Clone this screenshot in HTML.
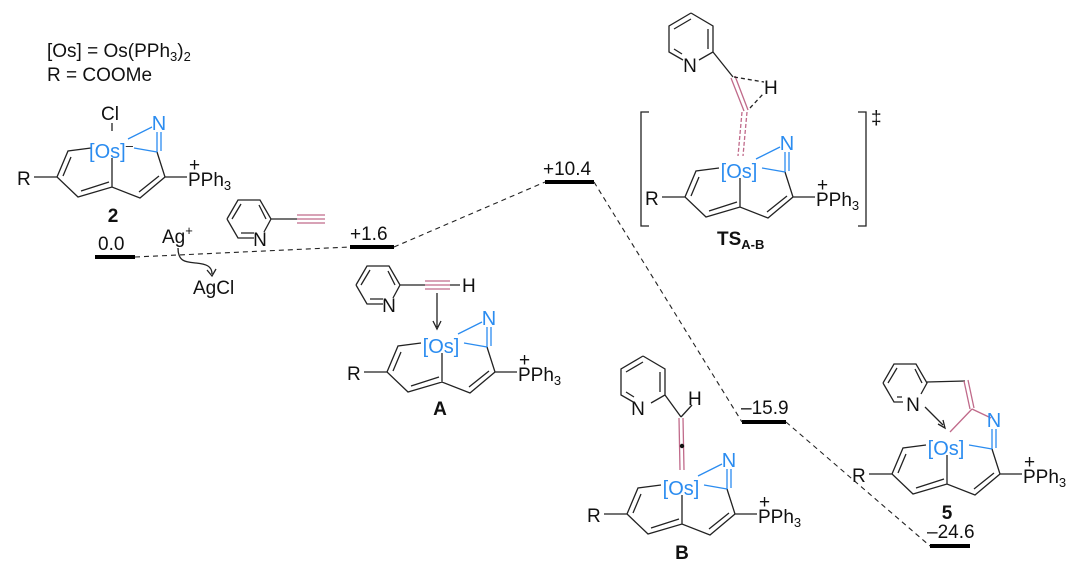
<!DOCTYPE html>
<html><head><meta charset="utf-8"><style>
html,body{margin:0;padding:0;background:#fff;}
svg{display:block;font-family:"Liberation Sans",Arial,sans-serif;}
.k{stroke:#222;stroke-width:1.3;fill:none;}
.b{stroke:#2b8cf0;stroke-width:1.3;fill:none;}
.p{stroke:#c06a8a;stroke-width:1.3;fill:none;}
.t{font-size:19px;fill:#111;}
.bt{font-size:20px;fill:#2b8cf0;}
.d{stroke:#222;stroke-width:1.1;stroke-dasharray:5,4;fill:none;}
.lv{stroke:#000;stroke-width:4;}
</style></head><body>
<svg width="1071" height="568" viewBox="0 0 1071 568">
<text class="t" x="47" y="57">[Os] = Os(PPh<tspan font-size="13" dy="4">3</tspan><tspan dy="-4">)</tspan><tspan font-size="13" dy="4">2</tspan></text>
<text class="t" x="47" y="81">R = COOMe</text>

<line class="lv" x1="95" y1="257" x2="135" y2="257"/>
<text class="t" x="98" y="250">0.0</text>
<line class="lv" x1="350" y1="247" x2="394" y2="247"/>
<text class="t" x="350" y="240">+1.6</text>
<line class="lv" x1="545" y1="182" x2="594" y2="182"/>
<text class="t" x="543" y="175">+10.4</text>
<line class="lv" x1="742" y1="422" x2="786" y2="422"/>
<text class="t" x="741" y="414">–15.9</text>
<line class="lv" x1="930" y1="546" x2="970" y2="546"/>
<text class="t" x="927" y="538">–24.6</text>
<path class="d" d="M135 257 L350 247 M394 247 L545 182 M594 182 L742 422 M786 422 L930 546"/>

<text class="t" x="162" y="243">Ag<tspan font-size="13" dy="-8">+</tspan></text>
<text class="t" x="193" y="294">AgCl</text>
<path class="k" d="M178 248 C178 262 186 262 196 263 C206 264 212 266 212 274" stroke-width="1"/>
<path class="k" d="M207 270 L212 276 L216 269" stroke-width="1"/>

<g transform="translate(112,145)">
<path class="k" d="M-21 3 L-44 6 L-55 32 L-34 52 L0 42 L28 53 L53 32 L45 7 M-41 12 L-49 31 M-31 46 L-3 37 M27 47 L47 31 M0 13 L0 42 M-55 32 L-78 32 M53 32 L75 32 M0 -14 L0 -22"/>
<path class="b" d="M16 -6 L40 -18 M22 3 L45 7 M45 7 L45 -13 M49 6 L49 -13"/>
<text class="bt" x="-1" y="13" text-anchor="middle">[Os]<tspan font-size="13" dy="-8" fill="#111">–</tspan></text>
<text class="bt" x="47" y="-15" text-anchor="middle">N</text>
<text class="t" x="-2" y="-25" text-anchor="middle">Cl</text>
<text class="t" x="-95" y="40">R</text>
<text class="t" x="76" y="41">PPh<tspan font-size="13" dy="4">3</tspan></text>
<text class="t" x="77" y="26" font-size="13">+</text>
</g>
<text class="t" x="113" y="222" text-anchor="middle" font-weight="bold">2</text>

<g transform="translate(249,219)">
<path class="k" d="M-22 0 L-11 -19 L11 -19 L22 0 L15 13 M5 19 L-11 19 L-22 0 M-17 0 L-8 -15 M10 -14 L17 0 M-8 14 L5 14 M22 0 L48 0"/>
<text class="t" x="11" y="27" text-anchor="middle">N</text>
<path class="p" d="M48 -4 L76 -4 M48 0 L76 0 M48 4 L76 4"/>
</g>

<g transform="translate(378,285)">
<path class="k" d="M-22 0 L-11 -19 L11 -19 L22 0 L15 13 M5 19 L-11 19 L-22 0 M-17 0 L-8 -15 M10 -14 L17 0 M-8 14 L5 14 M22 0 L47 0 M72 0 L82 0"/>
<text class="t" x="11" y="27" text-anchor="middle">N</text>
<path class="p" d="M47 -4 L72 -4 M47 0 L72 0 M47 4 L72 4"/>
<text class="t" x="84" y="7">H</text>
<path class="k" d="M59 8 L59 42 M55 36 L59 44 L63 36" stroke-width="1.1"/>
</g>
<g transform="translate(442,340)">
<path class="k" d="M-21 3 L-44 6 L-55 32 L-34 52 L0 42 L28 53 L53 32 L45 7 M-41 12 L-49 31 M-31 46 L-3 37 M27 47 L47 31 M0 13 L0 42 M-55 32 L-78 32 M53 32 L75 32"/>
<path class="b" d="M16 -6 L40 -18 M22 3 L45 7 M45 7 L45 -13 M49 6 L49 -13"/>
<text class="bt" x="-1" y="13" text-anchor="middle">[Os]</text>
<text class="bt" x="47" y="-15" text-anchor="middle">N</text>
<text class="t" x="-95" y="40">R</text>
<text class="t" x="76" y="41">PPh<tspan font-size="13" dy="4">3</tspan></text>
<text class="t" x="77" y="26" font-size="13">+</text>
</g>
<text class="t" x="440" y="415" text-anchor="middle" font-weight="bold">A</text>

<path class="k" d="M649 112 L641 112 L641 226 L649 226 M858 112 L866 112 L866 226 L858 226"/>
<text class="t" x="871" y="124" font-size="14">‡</text>
<g transform="translate(691,39)">
<path class="k" d="M0 -26 L22 -13 L22 13 L8 21 M-8 21 L-22 13 L-22 -13 L0 -26 M-17 -10 L0 -20 M17 -10 L17 10 M-17 10 L-9 15 M22 13 L42 38"/>
<text class="t" x="-1" y="33" text-anchor="middle">N</text>
</g>
<path class="p" d="M731 78 L744 111 M735 76 L748 110"/>
<path class="p" d="M742 112 L738 156 M747 112 L743 156" stroke-dasharray="4,2"/>
<path class="k" d="M734 77 L764 82 M750 108 L764 93" stroke-dasharray="4,3" stroke-width="1.1"/>
<text class="t" x="764" y="94">H</text>
<g transform="translate(740,165)">
<path class="k" d="M-21 3 L-44 6 L-55 32 L-34 52 L0 42 L28 53 L53 32 L45 7 M-41 12 L-49 31 M-31 46 L-3 37 M27 47 L47 31 M0 13 L0 42 M-55 32 L-78 32 M53 32 L75 32"/>
<path class="b" d="M16 -6 L40 -18 M22 3 L45 7 M45 7 L45 -13 M49 6 L49 -13"/>
<text class="bt" x="-1" y="13" text-anchor="middle">[Os]</text>
<text class="bt" x="47" y="-15" text-anchor="middle">N</text>
<text class="t" x="-95" y="40">R</text>
<text class="t" x="76" y="41">PPh<tspan font-size="13" dy="4">3</tspan></text>
<text class="t" x="77" y="26" font-size="13">+</text>
</g>
<text class="t" x="717" y="245" font-weight="bold" font-size="19">TS<tspan font-size="13" dy="4">A-B</tspan></text>

<g transform="translate(643,382)">
<path class="k" d="M0 -26 L22 -13 L22 13 L8 21 M-8 21 L-22 13 L-22 -13 L0 -26 M-17 -10 L0 -20 M17 -10 L17 10 M-17 10 L-9 15 M22 13 L38 35"/>
<text class="t" x="-5" y="33" text-anchor="middle">N</text>
</g>
<path class="k" d="M681 417 L692 405"/>
<text class="t" x="688" y="405">H</text>
<path class="p" d="M679 418 L680 470 M683 418 L684 470"/>
<circle cx="682" cy="446" r="2.2" fill="#111"/>
<g transform="translate(682,482)">
<path class="k" d="M-21 3 L-44 6 L-55 32 L-34 52 L0 42 L28 53 L53 32 L45 7 M-41 12 L-49 31 M-31 46 L-3 37 M27 47 L47 31 M0 13 L0 42 M-55 32 L-78 32 M53 32 L75 32"/>
<path class="b" d="M16 -6 L40 -18 M22 3 L45 7 M45 7 L45 -13 M49 6 L49 -13"/>
<text class="bt" x="-1" y="13" text-anchor="middle">[Os]</text>
<text class="bt" x="47" y="-15" text-anchor="middle">N</text>
<text class="t" x="-95" y="40">R</text>
<text class="t" x="76" y="41">PPh<tspan font-size="13" dy="4">3</tspan></text>
<text class="t" x="77" y="26" font-size="13">+</text>
</g>
<text class="t" x="682" y="559" text-anchor="middle" font-weight="bold">B</text>

<g transform="translate(905,383)">
<path class="k" d="M-22 0 L-11 -19 L11 -19 L22 0 L16 11 M-2 19 L-11 19 L-22 0 M-17 0 L-8 -15 M10 -14 L17 0 M-8 14 L-3 14 M22 -1 L60 -2"/>
<text class="t" x="8" y="28" text-anchor="middle">N</text>
<path class="k" d="M20 24 L38 42 M33 41 L40 45 L38 37" stroke-width="1.1"/>
</g>
<path class="p" d="M964 381 L970 409 M968 380 L974 408 M972 409 L991 418 M972 409 L950 432"/>
<g transform="translate(947,442)">
<path class="k" d="M-21 3 L-44 6 L-55 32 L-34 52 L0 42 L28 53 L53 32 L45 7 M-41 12 L-49 31 M-31 46 L-3 37 M27 47 L47 31 M0 13 L0 42 M-55 32 L-78 32 M53 32 L75 32"/>
<path class="b" d="M22 3 L45 7 M45 7 L45 -13 M49 6 L49 -13"/>
<text class="bt" x="-1" y="13" text-anchor="middle">[Os]</text>
<text class="bt" x="47" y="-15" text-anchor="middle">N</text>
<text class="t" x="-95" y="40">R</text>
<text class="t" x="76" y="41">PPh<tspan font-size="13" dy="4">3</tspan></text>
<text class="t" x="77" y="26" font-size="13">+</text>
</g>
<text class="t" x="947" y="519" text-anchor="middle" font-weight="bold">5</text>
</svg>
</body></html>
